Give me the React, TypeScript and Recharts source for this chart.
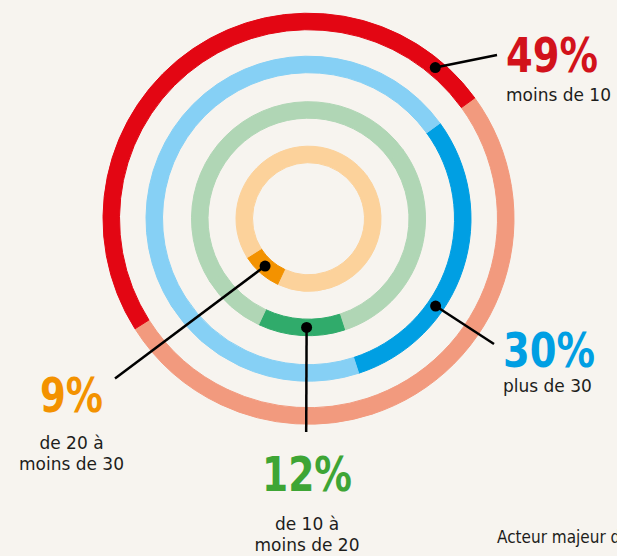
import React from "react"
import { PieChart, Pie, Cell } from "recharts"

// one share per age group, in clockwise order starting at the top right
const GROUPS = ["plus de 30", "de 10 à moins de 20", "de 20 à moins de 30", "moins de 10"]
const SHARES = [30, 12, 9, 49]
const PCT_LABELS = ["30%", "12%", "9%", "49%"]
const SUB_LABELS = [["plus de 30"], ["de 10 à", "moins de 20"], ["de 20 à", "moins de 30"], ["moins de 10"]]

const data = GROUPS.map((name, i) => ({ name, value: SHARES[i] }))

const W = 617
const H = 556
const CX = 308.5
const CY = 218.7
const BG = "#f7f4ef"

// each ring highlights one group of the same pie
const RINGS = [
  { hi: 3, inner: 189, outer: 205.5, dark: "#e30613", light: "#f29a7e", text: "#d2121b" },
  { hi: 0, inner: 146, outer: 162.5, dark: "#009fe3", light: "#86d0f5", text: "#009fe3" },
  { hi: 1, inner: 100.5, outer: 117, dark: "#30ab6b", light: "#b0d6b5", text: "#3ea535" },
  { hi: 2, inner: 56, outer: 72.5, dark: "#f39200", light: "#fcd29b", text: "#f39200" },
]

// callout layout: dot angle on the ring, leader end, text position
const CALLOUTS = [
  { angle: 50, end: [497, 55], x: 506, anchor: "start", big: 72, bigW: 92, subs: [101] },
  { angle: -34.5, end: [494, 344], x: 503, anchor: "start", big: 367, bigW: 92, subs: [392] },
  { angle: -91, end: [306.2, 432], x: 307, anchor: "middle", big: 491, bigW: 90, subs: [530, 551] },
  { angle: -132.5, end: [115, 378.5], x: 71.5, anchor: "middle", big: 412, bigW: 63, subs: [449, 470] },
]

const RAD = Math.PI / 180

function makeLabel(ringIdx: number) {
  const ring = RINGS[ringIdx]
  const c = CALLOUTS[ringIdx]
  return (props: any) => {
    if (props.index !== ring.hi) return null
    const cx = props.cx ?? CX
    const cy = props.cy ?? CY
    const r = (ring.inner + ring.outer) / 2
    const dx = cx + r * Math.cos(c.angle * RAD)
    const dy = cy - r * Math.sin(c.angle * RAD)
    return (
      <g>
        <line x1={dx} y1={dy} x2={c.end[0]} y2={c.end[1]} stroke="#000" strokeWidth={2.5} />
        <circle cx={dx} cy={dy} r={5.5} fill="#000" />
        <text
          x={c.x}
          y={c.big}
          textAnchor={c.anchor}
          fill={ring.text}
          fontFamily="'DejaVu Sans', sans-serif"
          fontWeight={700}
          fontSize={48}
          textLength={c.bigW}
          lengthAdjust="spacingAndGlyphs"
        >
          {PCT_LABELS[ring.hi]}
        </text>
        {SUB_LABELS[ring.hi].map((s, k) => (
          <text
            key={k}
            x={c.x}
            y={c.subs[k]}
            textAnchor={c.anchor}
            fill="#1d1d1b"
            fontFamily="'DejaVu Sans', sans-serif"
            fontSize={17}
          >
            {s}
          </text>
        ))}
      </g>
    )
  }
}

export default function App() {
  return (
    <div style={{ position: "fixed", left: 0, top: 0, width: W, height: H, background: BG, overflow: "hidden" }}>
      <PieChart width={W} height={H} margin={{ top: 0, right: 0, bottom: 0, left: 0 }}>
        {RINGS.map((ring, ri) => (
          <Pie
            key={ri}
            data={data}
            dataKey="value"
            nameKey="name"
            cx={CX}
            cy={CY}
            innerRadius={ring.inner}
            outerRadius={ring.outer}
            startAngle={36}
            endAngle={-324}
            label={makeLabel(ri)}
            labelLine={false}
            isAnimationActive={false}
          >
            {data.map((d, i) => {
              const fill = i === ring.hi ? ring.dark : ring.light
              // stroke in the fill colour hides the hairline seams between same-coloured cells
              return <Cell key={d.name} fill={fill} stroke={fill} strokeWidth={1} />
            })}
          </Pie>
        ))}
      </PieChart>
      <div
        style={{
          position: "absolute",
          left: 497,
          top: 527,
          whiteSpace: "nowrap",
          fontFamily: "'DejaVu Sans Condensed', 'Liberation Sans Narrow', sans-serif",
          fontSize: 17,
          color: "#1d1d1b",
        }}
      >
        Acteur majeur de
      </div>
    </div>
  )
}
